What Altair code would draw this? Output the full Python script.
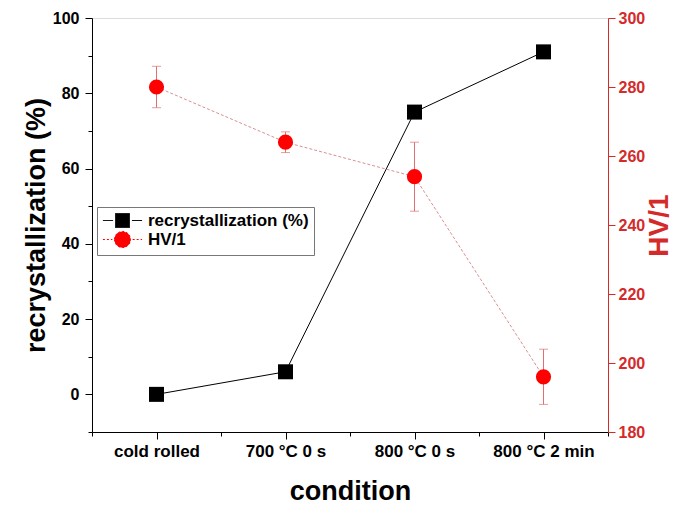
import altair as alt
import pandas as pd

categories = ["cold rolled", "700 °C 0 s", "800 °C 0 s", "800 °C 2 min"]
positions = [1, 2, 3, 4]
recryst = [0, 6, 75, 91]
hv = [280, 264, 254, 196]
hv_err = [6, 3, 10, 8]
series_names = ["recrystallization (%)", "HV/1"]

df = pd.DataFrame({
    "pos": positions,
    "cat": categories,
    "rec": recryst,
    "hv": hv,
    "lo": [h - e for h, e in zip(hv, hv_err)],
    "hi": [h + e for h, e in zip(hv, hv_err)],
})
leg_df = pd.DataFrame({"series": series_names, "pos": [1, 1], "rec": [0, 0]})

RED_AX = "#d42a2a"
RED = "#ff0000"
ERR = "#e07070"
DOT = "#d99090"
FONT = "Liberation Sans"

label_expr = " : ".join(
    [f"datum.value == {p} ? '{c}'" for p, c in zip(positions, categories)]
) + " : ''"

x_axis = alt.Axis(
    title="condition", values=[0.5, 1, 1.5, 2, 2.5, 3, 3.5, 4, 4.5],
    labelExpr=label_expr, grid=False, domainColor="black", tickColor="black",
    tickSize={"condition": {"test": "datum.value % 1 == 0", "value": 7}, "value": 4},
    labelFont=FONT, labelFontWeight="bold", labelFontSize=17, labelColor="black",
    labelPadding=4, titleFont=FONT, titleFontWeight="bold", titleFontSize=27,
    titleColor="black", titlePadding=19,
)
x = alt.X("pos:Q", scale=alt.Scale(domain=[0.5, 4.5], nice=False, zero=False), axis=x_axis)

left_axis = alt.Axis(
    title="recrystallization (%)", orient="left",
    values=list(range(-10, 101, 10)),
    labelExpr="datum.value % 20 == 0 ? datum.label : ''",
    tickSize={"condition": {"test": "datum.value % 20 == 0", "value": 7}, "value": 4},
    grid=False, domainColor="black", tickColor="black",
    labelFont=FONT, labelFontWeight="bold", labelFontSize=16, labelColor="black",
    labelPadding=6, titleFont=FONT, titleFontWeight="bold", titleFontSize=27,
    titleColor="black", titlePadding=2,
)
y_left = alt.Y("rec:Q", scale=alt.Scale(domain=[-10, 100], nice=False, zero=False), axis=left_axis)

right_scale = alt.Scale(domain=[180, 300], nice=False, zero=False)
right_axis = alt.Axis(
    title="HV/1", orient="right",
    values=list(range(180, 301, 10)),
    labelExpr="datum.value % 20 == 0 ? datum.label : ''",
    tickSize={"condition": {"test": "datum.value % 20 == 0", "value": 7}, "value": 4},
    grid=False, domainColor=RED_AX, tickColor=RED_AX,
    labelFont=FONT, labelFontWeight="bold", labelFontSize=16, labelColor=RED_AX,
    labelPadding=3, titleFont=FONT, titleFontWeight="bold", titleFontSize=28,
    titleColor=RED_AX, titlePadding=1, titleAngle=270, titleBaseline="top",
)
y_right = alt.Y("hv:Q", scale=right_scale, axis=right_axis)

sq_path = "M-2.8,0H-1.35M1.35,0H2.8M-1,-1H1V1H-1Z"
ci_path = ("M-2.8,0H-1.45M1.45,0H2.8M-1.15,0A1.15,1.15 0 1,0 1.15,0"
           "A1.15,1.15 0 1,0 -1.15,0Z")

legend = alt.Legend(
    title=None, orient="none", legendX=5, legendY=189,
    strokeColor="#777777", fillColor="white", padding=5,
    labelFont=FONT, labelFontWeight="bold", labelFontSize=17, labelColor="black",
    labelLimit=400,
    symbolOffset=12, labelOffset=17, rowPadding=-1, symbolStrokeWidth=1,
    symbolSize=196, symbolOpacity=1,
)

legend_layer = alt.Chart(leg_df).mark_point(filled=False, size=196, strokeWidth=1, opacity=1).encode(
    x=x,
    y=y_left,
    color=alt.Color("series:N", scale=alt.Scale(domain=series_names, range=["black", RED]), legend=legend),
    fill=alt.Fill("series:N", scale=alt.Scale(domain=series_names, range=["black", RED]), legend=legend),
    shape=alt.Shape("series:N", scale=alt.Scale(domain=series_names, range=[sq_path, ci_path]), legend=legend),
    strokeDash=alt.StrokeDash("series:N", scale=alt.Scale(domain=series_names, range=[[1, 0], [2, 2]]), legend=legend),
).transform_filter("false")

base = alt.Chart(df)

rec_line = base.mark_line(color="black", strokeWidth=1).encode(x=x, y=y_left)
rec_pts = base.mark_point(shape="square", filled=True, color="black", size=225, opacity=1).encode(x=x, y=y_left)

left = alt.layer(rec_line, rec_pts, legend_layer)

hv_err_rule = base.mark_rule(color=ERR, strokeWidth=1).encode(
    x=x, y=alt.Y("lo:Q", scale=right_scale, axis=right_axis), y2="hi:Q")
hv_cap_lo = base.mark_tick(color=ERR, orient="horizontal", size=9, thickness=1).encode(
    x=x, y=alt.Y("lo:Q", scale=right_scale))
hv_cap_hi = base.mark_tick(color=ERR, orient="horizontal", size=9, thickness=1).encode(
    x=x, y=alt.Y("hi:Q", scale=right_scale))
hv_line = base.mark_line(color=DOT, strokeWidth=1, strokeDash=[3, 2]).encode(x=x, y=y_right)
hv_pts = base.mark_point(shape="circle", filled=True, color=RED, size=230, opacity=1).encode(x=x, y=y_right)

right = alt.layer(hv_err_rule, hv_cap_lo, hv_cap_hi, hv_line, hv_pts)

chart = alt.layer(left, right).resolve_scale(y="independent").properties(
    width=668, height=496,
    autosize=alt.AutoSizeParams(type="fit", contains="padding"),
    padding={"left": 14, "top": 2, "right": 2, "bottom": 0},
).configure_view(stroke="black", strokeWidth=1).configure(background="white")

chart.save("out.html", embed_options={"renderer": "svg", "actions": False})
